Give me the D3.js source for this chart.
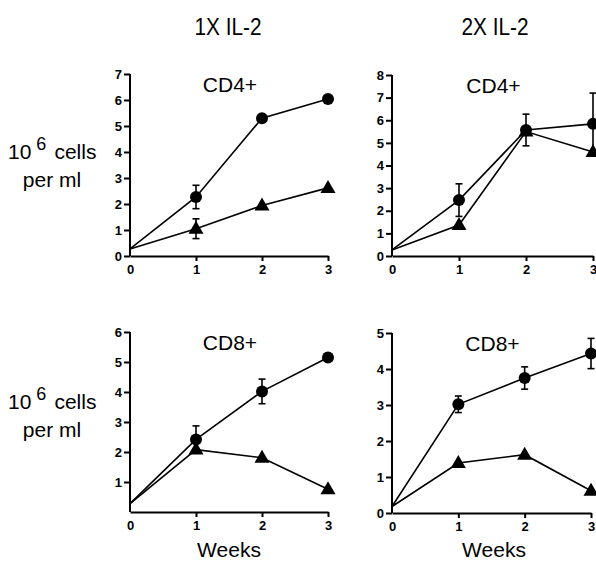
<!DOCTYPE html>
<html>
<head>
<meta charset="utf-8">
<script src="https://cdn.jsdelivr.net/npm/d3@7"></script>
<style>
  body { margin: 0; background: #fff; }
  svg { display: block; font-family: 'Liberation Sans', Arial, sans-serif; }
</style>
</head>
<body>
<svg id="canvas" width="596" height="562"></svg>
<script>
// cell counts per week
var weeks = [0, 1, 2, 3]

var cd4x1Circle = [0.27, 2.27, 5.3, 6.04]
var cd4x1CircleErr = [0, 0.45, 0, 0]
var cd4x1Triangle = [0.27, 1.05, 1.94, 2.62]
var cd4x1TriangleErr = [0, 0.38, 0, 0]

var cd4x2Circle = [0.27, 2.47, 5.57, 5.84]
var cd4x2CircleErr = [0, 0.72, 0.7, 1.36]
var cd4x2Triangle = [0.27, 1.37, 5.5, 4.6]
var cd4x2TriangleErr = [0, 0, 0, 0]

var cd8x1Circle = [0.28, 2.42, 4.02, 5.15]
var cd8x1CircleErr = [0, 0.45, 0.41, 0]
var cd8x1Triangle = [0.28, 2.08, 1.81, 0.76]
var cd8x1TriangleErr = [0, 0, 0, 0]

var cd8x2Circle = [0.18, 3.02, 3.75, 4.43]
var cd8x2CircleErr = [0, 0.23, 0.31, 0.42]
var cd8x2Triangle = [0.18, 1.39, 1.62, 0.62]
var cd8x2TriangleErr = [0, 0, 0, 0]

var yTicksCd4x1 = [0, 1, 2, 3, 4, 5, 6, 7]
var yTicksCd4x2 = [0, 1, 2, 3, 4, 5, 6, 7, 8]
var yTicksCd8x1 = [1, 2, 3, 4, 5, 6]
var yTicksCd8x2 = [0, 1, 2, 3, 4, 5]

var columnTitles = ['1X IL-2', '2X IL-2']
var panelTitles = ['CD4+', 'CD4+', 'CD8+', 'CD8+']
var xTitle = 'Weeks'

var canvas = d3.select('#canvas')

// panel layout (pixel boxes), the values come from the arrays above
var panels = [
  { x0: 130, x1: 328, y0: 256, y1: 74, max: 7, ticks: yTicksCd4x1, title: panelTitles[0],
    circle: cd4x1Circle, circleErr: cd4x1CircleErr, tri: cd4x1Triangle, triErr: cd4x1TriangleErr },
  { x0: 392, x1: 593, y0: 256, y1: 75, max: 8, ticks: yTicksCd4x2, title: panelTitles[1],
    circle: cd4x2Circle, circleErr: cd4x2CircleErr, tri: cd4x2Triangle, triErr: cd4x2TriangleErr },
  { x0: 130, x1: 328, y0: 512, y1: 332, max: 6, ticks: yTicksCd8x1, title: panelTitles[2],
    circle: cd8x1Circle, circleErr: cd8x1CircleErr, tri: cd8x1Triangle, triErr: cd8x1TriangleErr },
  { x0: 392, x1: 591, y0: 513, y1: 333, max: 5, ticks: yTicksCd8x2, title: panelTitles[3],
    circle: cd8x2Circle, circleErr: cd8x2CircleErr, tri: cd8x2Triangle, triErr: cd8x2TriangleErr }
]

function drawPanel(p) {
  var x = d3.scaleLinear().domain([0, 3]).range([p.x0, p.x1])
  var y = d3.scaleLinear().domain([0, p.max]).range([p.y0, p.y1])
  var g = canvas.append('g')

  // y axis
  var yAxis = g.append('g')
    .attr('transform', `translate(${p.x0},0)`)
    .call(d3.axisLeft(y).tickValues(p.ticks).tickSize(6).tickSizeOuter(0).tickPadding(2).tickFormat(d3.format('d')))
  yAxis.select('.domain').attr('d', `M0,${y(0)}V${y(p.max)}`)

  // x axis
  var xAxis = g.append('g')
    .attr('transform', `translate(0,${p.y0})`)
    .call(d3.axisBottom(x).tickValues(weeks).tickSize(5).tickSizeOuter(0).tickPadding(4).tickFormat(d3.format('d')))

  g.selectAll('.domain').attr('stroke', '#000').attr('stroke-width', 2)
  g.selectAll('.tick line').attr('stroke', '#000').attr('stroke-width', 2)
  g.selectAll('.tick text')
    .attr('fill', '#000')
    .style('font-size', '13px')
    .style('font-weight', 'bold')
    .style('font-family', "'Liberation Sans', Arial, sans-serif")
  xAxis.selectAll('.tick').filter(function(d) { return d === 0 }).select('line').remove()

  // panel title
  g.append('text')
    .attr('x', (p.x0 + p.x1) / 2 + 1)
    .attr('y', p.y1 + 18)
    .attr('text-anchor', 'middle')
    .style('font-size', '21px')
    .text(p.title)

  var line = d3.line().x(function(d, i) { return x(weeks[i]) }).y(function(d) { return y(d) })

  g.append('path').attr('d', line(p.circle)).attr('fill', 'none').attr('stroke', '#000').attr('stroke-width', 1.6)
  g.append('path').attr('d', line(p.tri)).attr('fill', 'none').attr('stroke', '#000').attr('stroke-width', 1.6)

  // error bars
  function errorBars(vals, errs) {
    vals.forEach(function(v, i) {
      if (!errs[i]) return
      var cx = x(weeks[i])
      var top = y(v + errs[i])
      var bot = y(v - errs[i])
      g.append('line').attr('x1', cx).attr('x2', cx).attr('y1', top).attr('y2', bot)
        .attr('stroke', '#000').attr('stroke-width', 1.6)
      g.append('line').attr('x1', cx - 3.5).attr('x2', cx + 3.5).attr('y1', top).attr('y2', top)
        .attr('stroke', '#000').attr('stroke-width', 1.6)
      g.append('line').attr('x1', cx - 3.5).attr('x2', cx + 3.5).attr('y1', bot).attr('y2', bot)
        .attr('stroke', '#000').attr('stroke-width', 1.6)
    })
  }
  errorBars(p.circle, p.circleErr)
  errorBars(p.tri, p.triErr)

  // markers (week 0 is the shared start point, no marker)
  g.selectAll('.tri')
    .data(p.tri.slice(1))
    .enter()
    .append('path')
    .attr('d', 'M0,-8L7.5,5L-7.5,5Z')
    .attr('transform', function(d, i) { return `translate(${x(weeks[i + 1])},${y(d)})` })
    .attr('fill', '#000')

  g.selectAll('.dot')
    .data(p.circle.slice(1))
    .enter()
    .append('circle')
    .attr('cx', function(d, i) { return x(weeks[i + 1]) })
    .attr('cy', function(d) { return y(d) })
    .attr('r', 6)
    .attr('fill', '#000')
}

panels.forEach(drawPanel)

// column headers
canvas.selectAll('.col')
  .data(columnTitles)
  .enter()
  .append('text')
  .attr('x', function(d, i) { return i ? 495 : 228 })
  .attr('y', 35)
  .attr('text-anchor', 'middle')
  .attr('textLength', 67)
  .attr('lengthAdjust', 'spacingAndGlyphs')
  .style('font-size', '23px')
  .text(function(d) { return d })

// row labels
;[159, 409].forEach(function(base) {
  var t = canvas.append('text').attr('x', 8).attr('y', base).style('font-size', '21px')
  t.append('tspan').text('10')
  t.append('tspan').attr('dy', -9).attr('dx', 5).style('font-size', '18px').text('6')
  t.append('tspan').attr('dy', 9).attr('dx', 8).text('cells')
  canvas.append('text').attr('x', 52).attr('y', base + 28).attr('text-anchor', 'middle')
    .style('font-size', '21px').text('per ml')
})

// x titles
canvas.selectAll('.weeks')
  .data([229, 494])
  .enter()
  .append('text')
  .attr('x', function(d) { return d })
  .attr('y', 557)
  .attr('text-anchor', 'middle')
  .style('font-size', '21px')
  .text(xTitle)
</script>
</body>
</html>
